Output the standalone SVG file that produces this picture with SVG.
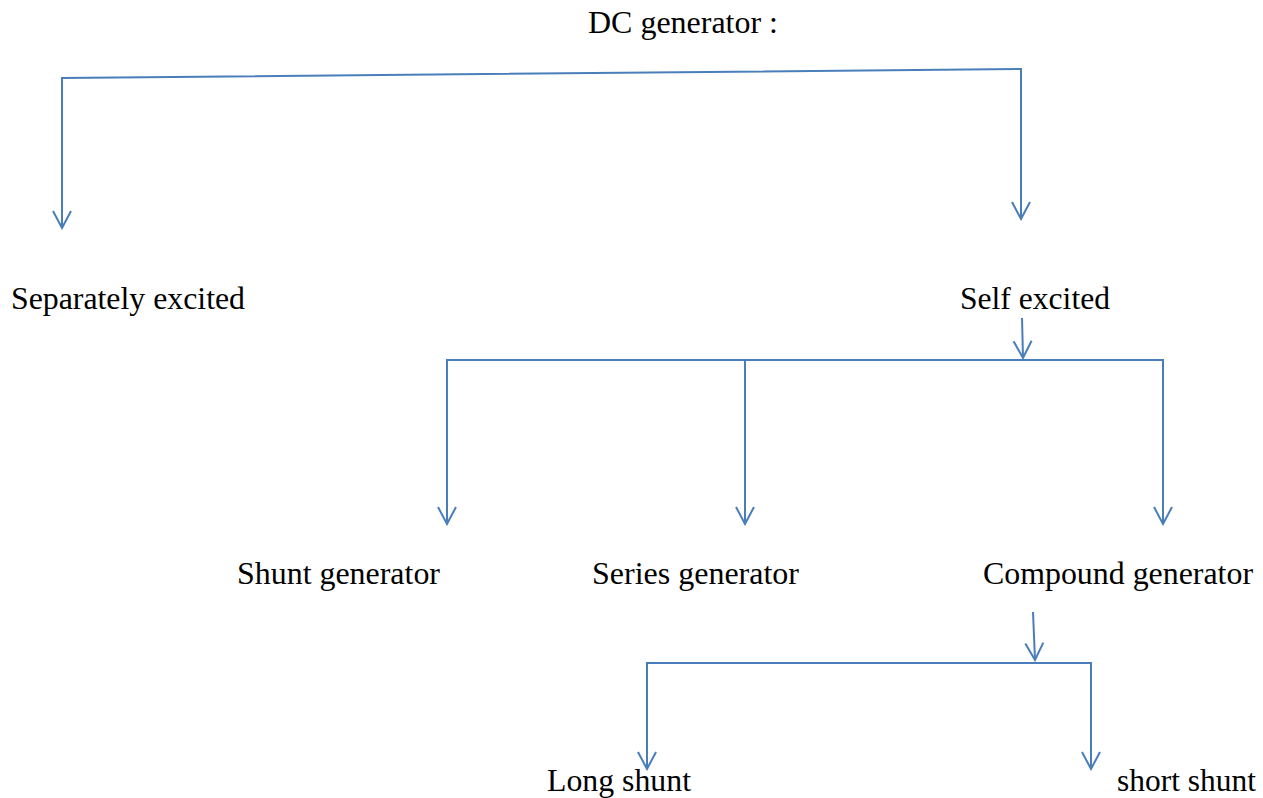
<svg xmlns="http://www.w3.org/2000/svg" width="1263" height="798" viewBox="0 0 1263 798">
<style>
text{font-family:"Liberation Serif","Times New Roman",serif;font-size:31px;fill:#000}
.c line,.c path{stroke:#4a7ebb;stroke-width:2;fill:none}
</style>
<defs>
<marker id="a" markerUnits="userSpaceOnUse" viewBox="-20 -12 22 24" refX="0" refY="0" markerWidth="22" markerHeight="24" orient="auto">
<path d="M-17,-9 L0,0 L-17,9" fill="none" stroke="#4a7ebb" stroke-width="2"/>
</marker>
</defs>
<rect width="1263" height="798" fill="#fff"/>
<g class="c" id="connectors">
<path d="M62,228 V78 L1022,69"/>
<line x1="62" y1="78" x2="62" y2="228" marker-end="url(#a)"/>
<line x1="1021" y1="69" x2="1021" y2="219" marker-end="url(#a)"/>
<line x1="1022" y1="318" x2="1023" y2="358" marker-end="url(#a)"/>
<path d="M447,524 V360 H1163 V524"/>
<line x1="447" y1="360" x2="447" y2="524" marker-end="url(#a)"/>
<line x1="745" y1="360" x2="745" y2="524" marker-end="url(#a)"/>
<line x1="1163" y1="360" x2="1163" y2="524" marker-end="url(#a)"/>
<line x1="1033" y1="612" x2="1035" y2="660" marker-end="url(#a)"/>
<path d="M647,769 V663 H1091 V769"/>
<line x1="647" y1="663" x2="647" y2="769" marker-end="url(#a)"/>
<line x1="1091" y1="663" x2="1091" y2="769" marker-end="url(#a)"/>
</g>
<g id="dc"><text x="588" y="33" textLength="190" lengthAdjust="spacingAndGlyphs">DC generator :</text></g>
<g id="sep"><text x="11" y="309" textLength="234" lengthAdjust="spacingAndGlyphs">Separately excited</text></g>
<g id="self"><text x="960" y="309" textLength="150" lengthAdjust="spacingAndGlyphs">Self excited</text></g>
<g id="shunt"><text x="237" y="584" textLength="203" lengthAdjust="spacingAndGlyphs">Shunt generator</text></g>
<g id="series"><text x="592" y="584" textLength="207" lengthAdjust="spacingAndGlyphs">Series generator</text></g>
<g id="compound"><text x="983" y="584" textLength="270" lengthAdjust="spacingAndGlyphs">Compound generator</text></g>
<g id="long"><text x="547" y="791" textLength="144" lengthAdjust="spacingAndGlyphs">Long shunt</text></g>
<g id="short"><text x="1117" y="791" textLength="139" lengthAdjust="spacingAndGlyphs">short shunt</text></g>
</svg>
